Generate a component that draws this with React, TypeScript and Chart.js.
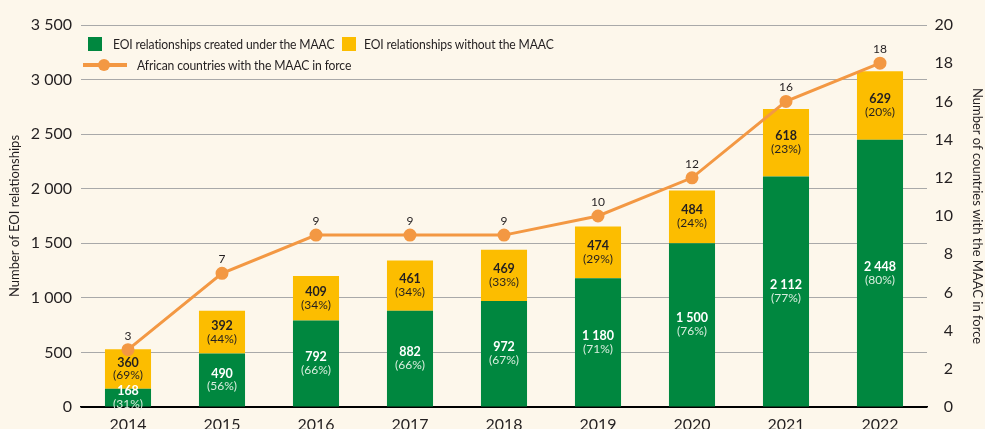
import React, { useEffect, useRef } from "react";
import { Chart, registerables } from "chart.js";

Chart.register(...registerables);

const years = ["2014", "2015", "2016", "2017", "2018", "2019", "2020", "2021", "2022"];
const underMaac = [168, 490, 792, 882, 972, 1180, 1500, 2112, 2448];
const withoutMaac = [360, 392, 409, 461, 469, 474, 484, 618, 629];
const underPct = [31, 56, 66, 66, 67, 71, 76, 77, 80];
const withoutPct = [69, 44, 34, 34, 33, 29, 24, 23, 20];
const countries = [3, 7, 9, 9, 9, 10, 12, 16, 18];
const leftTicks = [0, 500, 1000, 1500, 2000, 2500, 3000, 3500];
const rightTicks = [0, 2, 4, 6, 8, 10, 12, 14, 16, 18, 20];

const GREEN = "#00873f";
const YELLOW = "#fcbd00";
const ORANGE = "#f39843";
const BG = "#fdf7eb";
const TEXT = "#231f20";
const FONT = "Lato, 'Open Sans', sans-serif";

const fmt = (v: number) => {
  const s = String(v);
  return s.length > 3 ? s.slice(0, s.length - 3) + " " + s.slice(s.length - 3) : s;
};

const labelPlugin = {
  id: "labels",
  afterDatasetsDraw(chart: any) {
    const ctx = chart.ctx;
    ctx.save();
    ctx.textAlign = "center";
    ctx.textBaseline = "middle";
    const draw = (dsIndex: number, vals: number[], pcts: number[], color: string, pctColor: string) => {
      const meta = chart.getDatasetMeta(dsIndex);
      meta.data.forEach((bar: any, i: number) => {
        const cy = (bar.y + bar.base) / 2;
        ctx.fillStyle = color;
        ctx.font = `bold 12.5px ${FONT}`;
        ctx.fillText(fmt(vals[i]), bar.x, cy - 6.5);
        ctx.fillStyle = pctColor;
        ctx.font = `12px ${FONT}`;
        ctx.fillText(`(${pcts[i]}%)`, bar.x, cy + 6.5);
      });
    };
    draw(0, underMaac, underPct, "#ffffff", "#d8eede");
    draw(1, withoutMaac, withoutPct, TEXT, TEXT);
    const lm = chart.getDatasetMeta(2);
    ctx.fillStyle = TEXT;
    ctx.font = `12px ${FONT}`;
    lm.data.forEach((p: any, i: number) => {
      ctx.fillText(String(countries[i]), p.x, p.y - 14);
    });
    // right axis tick labels, right-aligned
    const y1 = chart.scales.y1;
    ctx.textAlign = "right";
    ctx.font = `16px ${FONT}`;
    rightTicks.forEach((v) => {
      ctx.fillText(String(v), 953, y1.getPixelForValue(v));
    });
    ctx.restore();
  },
};

export default function App() {
  const ref = useRef<HTMLCanvasElement>(null);
  useEffect(() => {
    document.body.style.margin = "0";
    document.body.style.background = BG;
    const chart = new Chart(ref.current as HTMLCanvasElement, {
      type: "bar",
      data: {
        labels: years,
        datasets: [
          {
            label: "EOI relationships created under the MAAC",
            data: underMaac,
            backgroundColor: GREEN,
            yAxisID: "y",
            order: 2,
            barPercentage: 0.98,
            categoryPercentage: 0.5,
          },
          {
            label: "EOI relationships without the MAAC",
            data: withoutMaac,
            backgroundColor: YELLOW,
            yAxisID: "y",
            order: 2,
            barPercentage: 0.98,
            categoryPercentage: 0.5,
          },
          {
            type: "line",
            label: "African countries with the MAAC in force",
            data: countries,
            borderColor: ORANGE,
            backgroundColor: ORANGE,
            borderWidth: 3,
            pointRadius: 5,
            pointBackgroundColor: ORANGE,
            pointBorderColor: ORANGE,
            yAxisID: "y1",
            order: 0,
            tension: 0,
          } as any,
        ],
      },
      options: {
        animation: false,
        responsive: false,
        maintainAspectRatio: false,
        layout: { padding: { top: 25, bottom: 0, left: 0, right: 0 } },
        plugins: {
          legend: { display: false },
          tooltip: { enabled: false },
          title: { display: false },
        },
        scales: {
          x: {
            stacked: true,
            grid: { display: false },
            border: { color: "#000", width: 1.5 },
            ticks: { color: TEXT, font: { family: FONT, size: 16 }, padding: 0 },
            afterFit(s: any) {
              s.height = 22;
            },
          },
          y: {
            stacked: true,
            position: "left",
            min: 0,
            max: 3500,
            afterBuildTicks(s: any) {
              s.ticks = leftTicks.map((v) => ({ value: v }));
            },
            grid: {
              color: (c: any) => (c.tick && c.tick.value === 0 ? "#000" : "#a9a9a9"),
              lineWidth: 1,
              drawTicks: false,
            },
            border: { display: false },
            ticks: {
              color: TEXT,
              font: { family: FONT, size: 16 },
              padding: 9,
              callback: (v: any) => fmt(Number(v)),
            },
            title: {
              display: true,
              text: "Number of EOI relationships",
              color: TEXT,
              font: { family: FONT, size: 13 },
              padding: { top: 7, bottom: 0 },
            },
            afterFit(s: any) {
              s.width = 81;
            },
          },
          y1: {
            position: "right",
            min: 0,
            max: 20,
            ticks: { display: false, stepSize: 2 },
            grid: { display: false, drawTicks: false },
            border: { display: false },
            title: {
              display: true,
              text: "Number of countries with the MAAC in force",
              color: TEXT,
              font: { family: FONT, size: 13 },
              padding: { top: 0, bottom: 2 },
            },
            afterFit(s: any) {
              s.width = 58;
            },
          },
        },
      } as any,
      plugins: [labelPlugin],
    });
    return () => chart.destroy();
  }, []);

  const txt: React.CSSProperties = {
    position: "absolute",
    fontFamily: FONT,
    fontSize: 13,
    letterSpacing: "-0.15px",
    color: TEXT,
    lineHeight: "16px",
    whiteSpace: "nowrap",
    transform: "scaleX(0.935)",
    transformOrigin: "left center",
  };

  return (
    <div style={{ position: "relative", width: 985, height: 429, background: BG, overflow: "hidden" }}>
      <canvas ref={ref} width={985} height={429} style={{ display: "block" }} />
      <div style={{ position: "absolute", left: 88, top: 37, width: 14, height: 14, background: GREEN }} />
      <div style={{ ...txt, left: 113, top: 36 }}>EOI relationships created under the MAAC</div>
      <div style={{ position: "absolute", left: 342, top: 37, width: 14, height: 14, background: YELLOW }} />
      <div style={{ ...txt, left: 364, top: 36 }}>EOI relationships without the MAAC</div>
      <div style={{ position: "absolute", left: 83, top: 63, width: 44, height: 4, background: ORANGE }} />
      <div
        style={{
          position: "absolute",
          left: 98,
          top: 59,
          width: 12,
          height: 12,
          borderRadius: 6,
          background: ORANGE,
        }}
      />
      <div style={{ ...txt, left: 137, top: 57 }}>African countries with the MAAC in force</div>
    </div>
  );
}
